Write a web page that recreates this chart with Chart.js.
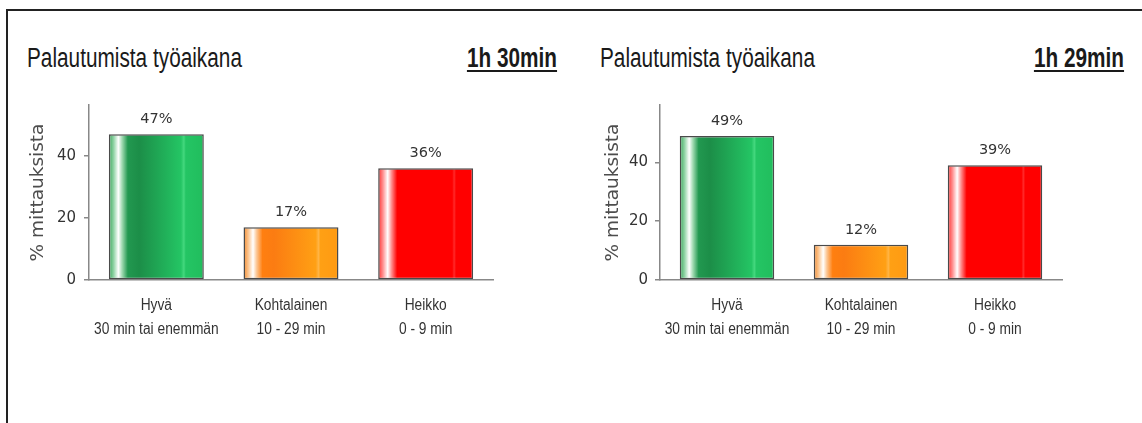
<!DOCTYPE html>
<html>
<head>
<meta charset="utf-8">
<script src="https://cdn.jsdelivr.net/npm/chart.js@4"></script>
<style>
  body { margin: 0; width: 1142px; height: 423px; background: #fff; position: relative; overflow: hidden; }
  .frame { position: absolute; left: 6px; top: 9px; right: -10px; bottom: -10px; border-top: 2px solid #222; border-left: 2px solid #222; }
  .otsikko { position: absolute; top: 43px; font-family: "Liberation Sans", Arial, sans-serif; font-size: 27px; color: #1a1a1a; transform: scaleX(0.77); transform-origin: left top; white-space: nowrap; }
  .kesto { position: absolute; top: 43px; font-family: "Liberation Sans", Arial, sans-serif; font-size: 27px; font-weight: bold; color: #1a1a1a; text-decoration: underline; text-decoration-thickness: 2px; text-underline-offset: 3px; transform: scaleX(0.77); transform-origin: right top; white-space: nowrap; }
  canvas { position: absolute; }
</style>
</head>
<body>
<div class="frame"></div>
<div class="otsikko" style="left:27px">Palautumista työaikana</div>
<div class="kesto" id="kesto1" style="right:585px"></div>
<div class="otsikko" style="left:600px">Palautumista työaikana</div>
<div class="kesto" id="kesto2" style="right:18px"></div>
<div style="position:absolute;left:0;top:95px;width:570px;height:260px"><canvas id="kaavio1"></canvas></div>
<div style="position:absolute;left:570px;top:95px;width:572px;height:260px"><canvas id="kaavio2"></canvas></div>
<script>
// DATA
const kategoriat = [["Hyvä", "30 min tai enemmän"], ["Kohtalainen", "10 - 29 min"], ["Heikko", "0 - 9 min"]];
const arvot1 = [47, 17, 36];
const arvot2 = [49, 12, 39];
const kestot = ["1h 30min", "1h 29min"];
const yMaksimit = [56.4, 59.5];
const yAskel = 20;
const yOtsikko = "% mittauksista";

document.getElementById("kesto1").textContent = kestot[0];
document.getElementById("kesto2").textContent = kestot[1];

// pylväiden liukuvärit (vasemmalla kiiltoraita)
const liukuvarit = [
  [[0, "#3aa65c"], [0.05, "#8fd3a4"], [0.1, "#ffffff"], [0.14, "#9fd9b0"], [0.2, "#229850"], [0.32, "#1c8e48"], [0.76, "#24c564"], [0.79, "#44d87e"], [0.81, "#24c564"], [1, "#21bd5d"]],
  [[0, "#f28a2e"], [0.05, "#fbc48e"], [0.1, "#ffffff"], [0.14, "#fcc490"], [0.2, "#ff7f10"], [0.32, "#fb7c12"], [0.76, "#ffa014"], [0.79, "#ffb444"], [0.81, "#ffa014"], [1, "#ff9a12"]],
  [[0, "#ff3030"], [0.05, "#ff9090"], [0.1, "#ffffff"], [0.14, "#ff9090"], [0.2, "#ff0000"], [0.78, "#ff0000"], [0.8, "#ff2a2a"], [0.82, "#ff0000"], [1, "#ff0000"]]
];
const PALKKI = 0.705;

function palkinVari(ctx) {
  const chart = ctx.chart;
  const x = chart.scales.x;
  if (!chart.chartArea || !x) return "#999";
  const keski = x.getPixelForValue(ctx.dataIndex);
  const leveys = (x.width / kategoriat.length) * PALKKI;
  const g = chart.ctx.createLinearGradient(keski - leveys / 2, 0, keski + leveys / 2, 0);
  liukuvarit[ctx.dataIndex].forEach(s => g.addColorStop(s[0], s[1]));
  return g;
}

// prosenttiluvut pylväiden päälle + kapeat kategoriatekstit x-akselin alle
const tekstiPlugin = {
  id: "tekstit",
  afterDraw(chart) {
    const c = chart.ctx;
    const meta = chart.getDatasetMeta(0);
    const x = chart.scales.x;
    c.save();
    c.font = "14.5px 'DejaVu Sans'";
    c.fillStyle = "#333";
    c.textAlign = "center";
    c.textBaseline = "alphabetic";
    meta.data.forEach((bar, i) => {
      c.fillText(chart.data.datasets[0].data[i] + "%", bar.x, bar.y - 11);
    });
    c.font = "16px 'Liberation Sans'";
    c.textBaseline = "middle";
    chart.data.labels.forEach((rivit, i) => {
      const px = x.getPixelForValue(i);
      rivit.forEach((r, j) => {
        c.save();
        c.translate(px, x.top + 25.5 + j * 24);
        c.scale(0.86, 1);
        c.fillText(r, 0, 0);
        c.restore();
      });
    });
    c.restore();
  }
};

function teeKaavio(id, arvot, yMax, vasen, oikea, otsikkoPad, tickPad) {
  return new Chart(document.getElementById(id), {
    type: "bar",
    data: {
      labels: kategoriat,
      datasets: [{
        data: arvot,
        backgroundColor: palkinVari,
        borderColor: "#4a4a4a",
        borderWidth: 1.5,
        borderSkipped: false,
        barPercentage: PALKKI,
        categoryPercentage: 1
      }]
    },
    options: {
      responsive: true,
      maintainAspectRatio: false,
      animation: false,
      layout: { padding: { left: 0, right: oikea, top: 10, bottom: 0 } },
      plugins: { legend: { display: false }, tooltip: { enabled: false } },
      scales: {
        x: {
          grid: { display: false },
          border: { color: "#888", width: 1.5 },
          ticks: { display: false },
          afterFit: s => { s.height = 75; }
        },
        y: {
          min: 0,
          max: yMax,
          grid: { drawOnChartArea: false, drawTicks: true, tickLength: 5, color: "#888", lineWidth: 1.5 },
          border: { color: "#888", width: 1.5 },
          ticks: { stepSize: yAskel, color: "#333", padding: tickPad, font: { family: "'DejaVu Sans'", size: 15 } },
          afterBuildTicks: s => { s.ticks = s.ticks.filter(t => t.value % yAskel === 0); },
          title: { display: true, text: yOtsikko, color: "#4d4d4d", padding: { top: otsikkoPad, bottom: 0 }, font: { family: "'DejaVu Sans'", size: 18.5 } },
          afterFit: s => { s.width = vasen; s.paddingTop = 0; s.paddingBottom = 0; }
        }
      }
    },
    plugins: [tekstiPlugin]
  });
}

teeKaavio("kaavio1", arvot1, yMaksimit[0], 89, 77, 27, 8);
teeKaavio("kaavio2", arvot2, yMaksimit[1], 90, 80, 32.5, 7);
</script>
</body>
</html>
